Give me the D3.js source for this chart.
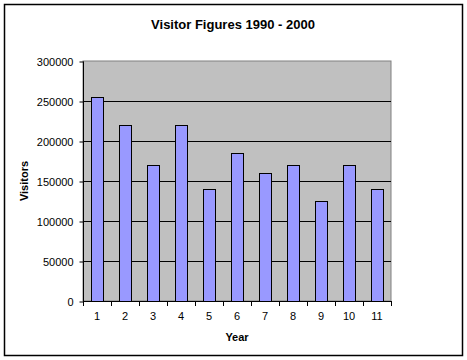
<!DOCTYPE html>
<html>
<head>
<meta charset="utf-8">
<script src="https://cdn.jsdelivr.net/npm/d3@7"></script>
<style>
  body { margin: 0; background: #fff; }
  svg text { font-family: Arial, "Liberation Sans", sans-serif; }
</style>
</head>
<body>
<div id="chart"></div>
<script>
const years = ["1", "2", "3", "4", "5", "6", "7", "8", "9", "10", "11"];
const visitors = [255000, 220000, 170000, 220000, 140000, 185000, 160000, 170000, 125000, 170000, 140000];
const yTicks = [0, 50000, 100000, 150000, 200000, 250000, 300000];

const data = years.map((y, i) => ({ year: y, value: visitors[i] }));

const svg = d3.select("#chart")
    .append("svg")
    .attr("width", 467)
    .attr("height", 360);

// outer chart border
svg.append("rect")
    .attr("x", 4.5).attr("y", 4.5)
    .attr("width", 458).attr("height", 351)
    .attr("fill", "#fff")
    .attr("stroke", "#000")
    .attr("stroke-width", 1.5);

const plotL = 83, plotT = 61, plotR = 391, plotB = 301;

const x = d3.scaleBand()
    .domain(years)
    .range([plotL, plotR])
    .padding(0);

const y = d3.scaleLinear()
    .domain([0, 300000])
    .range([plotB, plotT]);

// plot area
svg.append("rect")
    .attr("x", plotL).attr("y", plotT)
    .attr("width", plotR - plotL).attr("height", plotB - plotT)
    .attr("fill", "#C0C0C0")
    .attr("stroke", "#808080")
    .attr("stroke-width", 1);

// gridlines
svg.selectAll(".grid")
    .data(yTicks.filter(d => d > 0 && d < 300000))
    .enter().append("line")
    .attr("x1", plotL).attr("x2", plotR)
    .attr("y1", d => Math.round(y(d)) + 0.5)
    .attr("y2", d => Math.round(y(d)) + 0.5)
    .attr("stroke", "#000")
    .attr("stroke-width", 1);

// bars
const barW = 12;
svg.selectAll(".bar")
    .data(data)
    .enter().append("rect")
    .attr("class", "bar")
    .attr("x", d => Math.round(x(d.year) + x.bandwidth() / 2 - barW / 2) + 0.5)
    .attr("y", d => Math.round(y(d.value)) + 0.5)
    .attr("width", barW)
    .attr("height", d => Math.round(y(0)) - Math.round(y(d.value)))
    .attr("fill", "#9999FF")
    .attr("stroke", "#000")
    .attr("stroke-width", 1);

// y axis
const yAxis = svg.append("g")
    .attr("transform", `translate(${plotL + 0.5},0.5)`)
    .call(d3.axisLeft(y).tickValues(yTicks).tickSize(4).tickPadding(6).tickFormat(d3.format("d")));
yAxis.select(".domain").attr("d", `M0,${plotT}V${plotB}`);
yAxis.selectAll("text").attr("font-size", 11).attr("fill", "#000")
    .attr("font-family", "Arial, 'Liberation Sans', sans-serif");

// x axis
const xAxis = svg.append("g")
    .attr("transform", `translate(0,${plotB + 0.5})`)
    .call(d3.axisBottom(x).tickSize(0).tickPadding(11));
xAxis.select(".domain").attr("d", `M${plotL},0H${plotR}`);
xAxis.selectAll("text").attr("font-size", 11).attr("fill", "#000")
    .attr("font-family", "Arial, 'Liberation Sans', sans-serif");

// x tick marks at category boundaries
svg.selectAll(".xtick")
    .data(d3.range(years.length + 1))
    .enter().append("line")
    .attr("x1", i => Math.round(plotL + i * x.step()) + 0.5)
    .attr("x2", i => Math.round(plotL + i * x.step()) + 0.5)
    .attr("y1", plotB)
    .attr("y2", plotB + 5)
    .attr("stroke", "#000");

// title
svg.append("text")
    .attr("x", 233)
    .attr("y", 29)
    .attr("text-anchor", "middle")
    .attr("font-size", 13)
    .attr("font-weight", "bold")
    .text("Visitor Figures 1990 - 2000");

// axis titles
svg.append("text")
    .attr("x", 237)
    .attr("y", 341)
    .attr("text-anchor", "middle")
    .attr("font-size", 11)
    .attr("font-weight", "bold")
    .text("Year");

svg.append("text")
    .attr("transform", "translate(28,181) rotate(-90)")
    .attr("text-anchor", "middle")
    .attr("font-size", 11)
    .attr("font-weight", "bold")
    .text("Visitors");
</script>
</body>
</html>
